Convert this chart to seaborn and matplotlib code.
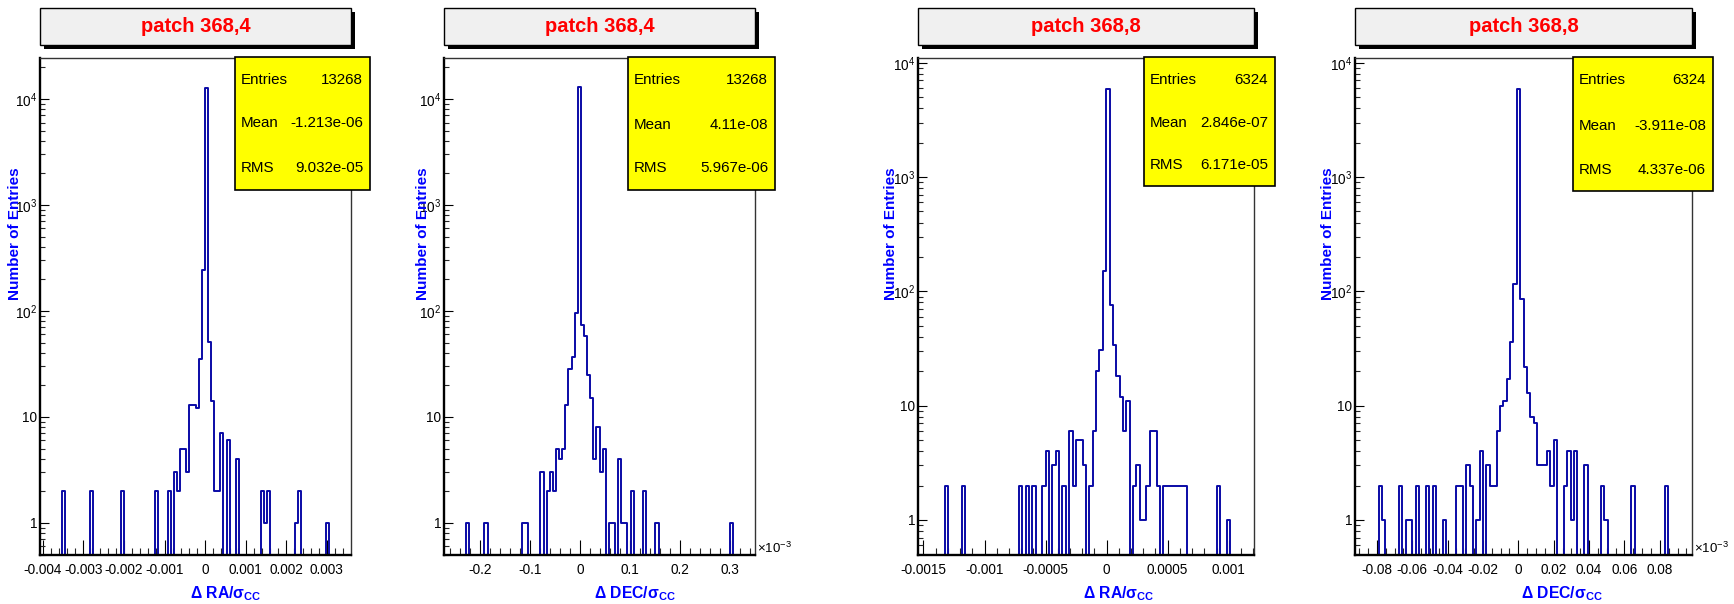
import numpy as np
import pandas as pd
import matplotlib
matplotlib.use("Agg")
import matplotlib.pyplot as plt
import seaborn as sns
from matplotlib.patches import Rectangle
from matplotlib.ticker import (FixedLocator, FixedFormatter, MultipleLocator,
                               LogLocator, NullFormatter)

# ---------------------------------------------------------------- data
titles = ["patch 368,4", "patch 368,4", "patch 368,8", "patch 368,8"]
xlabels = [r"Δ RA/σ$_{\mathbf{CC}}$", r"Δ DEC/σ$_{\mathbf{CC}}$",
           r"Δ RA/σ$_{\mathbf{CC}}$", r"Δ DEC/σ$_{\mathbf{CC}}$"]
ylabel = "Number of Entries"

# histogram ranges (100 bins each)
range_ra_368_4 = (-0.004071, 0.003594)
range_dec_368_4 = (-0.2713e-3, 0.3490e-3)
range_ra_368_8 = (-0.001545, 0.001207)
range_dec_368_8 = (-0.09235e-3, 0.09819e-3)

counts_ra_368_4 = [
    0, 0, 0, 0, 0, 0, 0, 2, 0, 0,
    0, 0, 0, 0, 0, 0, 2, 0, 0, 0,
    0, 0, 0, 0, 0, 0, 2, 0, 0, 0,
    0, 0, 0, 0, 0, 0, 0, 2, 0, 0,
    0, 2, 0, 3, 2, 5, 5, 3, 13, 13,
    12, 35, 242, 12830, 51, 14, 2, 2, 7, 0,
    6, 0, 0, 4, 0, 0, 0, 0, 0, 0,
    0, 2, 1, 2, 0, 0, 0, 0, 0, 0,
    0, 0, 1, 2, 0, 0, 0, 0, 0, 0,
    0, 0, 1, 0, 0, 0, 0, 0, 0, 0,
]
counts_dec_368_4 = [
    0, 0, 0, 0, 0, 0, 0, 1, 0, 0,
    0, 0, 0, 1, 0, 0, 0, 0, 0, 0,
    0, 0, 0, 0, 0, 1, 1, 0, 0, 0,
    0, 3, 0, 2, 3, 2, 5, 4, 5, 13,
    28, 37, 95, 12861, 74, 58, 25, 15, 4, 8,
    3, 5, 0, 1, 1, 0, 4, 1, 1, 0,
    2, 0, 0, 0, 2, 0, 0, 0, 1, 0,
    0, 0, 0, 0, 0, 0, 0, 0, 0, 0,
    0, 0, 0, 0, 0, 0, 0, 0, 0, 0,
    0, 0, 1, 0, 0, 0, 0, 0, 0, 0,
]
counts_ra_368_8 = [
    0, 0, 0, 0, 0, 0, 0, 0, 2, 0,
    0, 0, 0, 2, 0, 0, 0, 0, 0, 0,
    0, 0, 0, 0, 0, 0, 0, 0, 0, 0,
    2, 0, 2, 0, 2, 0, 0, 2, 4, 0,
    3, 4, 0, 2, 0, 6, 2, 5, 5, 3,
    0, 2, 6, 20, 31, 150, 5872, 76, 34, 18,
    12, 6, 11, 0, 2, 3, 1, 1, 2, 6,
    6, 2, 0, 2, 2, 2, 2, 2, 2, 2,
    0, 0, 0, 0, 0, 0, 0, 0, 0, 2,
    0, 0, 1, 0, 0, 0, 0, 0, 0, 0,
]
counts_dec_368_8 = [
    0, 0, 0, 0, 0, 0, 0, 2, 1, 0,
    0, 0, 0, 2, 0, 1, 1, 0, 2, 0,
    0, 2, 0, 2, 0, 0, 1, 0, 0, 0,
    2, 2, 0, 3, 2, 0, 1, 4, 0, 3,
    2, 2, 6, 10, 11, 17, 36, 117, 5916, 85,
    22, 13, 8, 7, 3, 3, 3, 4, 2, 5,
    0, 0, 2, 4, 1, 4, 0, 0, 3, 0,
    0, 0, 0, 2, 1, 0, 0, 0, 0, 0,
    0, 0, 2, 0, 0, 0, 0, 0, 0, 0,
    0, 0, 2, 0, 0, 0, 0, 0, 0, 0,
]

stat_names = ["Entries", "Mean", "RMS"]
stats_ra_368_4 = ["13268", "-1.213e-06", "9.032e-05"]
stats_dec_368_4 = ["13268", "4.11e-08", "5.967e-06"]
stats_ra_368_8 = ["6324", "2.846e-07", "6.171e-05"]
stats_dec_368_8 = ["6324", "-3.911e-08", "4.337e-06"]

xticks_ra_368_4 = [-0.004, -0.003, -0.002, -0.001, 0, 0.001, 0.002, 0.003]
xticklabels_ra_368_4 = ["-0.004", "-0.003", "-0.002", "-0.001", "0",
                        "0.001", "0.002", "0.003"]
xticks_dec_368_4 = [-0.2e-3, -0.1e-3, 0, 0.1e-3, 0.2e-3, 0.3e-3]
xticklabels_dec_368_4 = ["-0.2", "-0.1", "0", "0.1", "0.2", "0.3"]
xticks_ra_368_8 = [-0.0015, -0.001, -0.0005, 0, 0.0005, 0.001]
xticklabels_ra_368_8 = ["-0.0015", "-0.001", "-0.0005", "0", "0.0005", "0.001"]
xticks_dec_368_8 = [-0.08e-3, -0.06e-3, -0.04e-3, -0.02e-3, 0,
                    0.02e-3, 0.04e-3, 0.06e-3, 0.08e-3]
xticklabels_dec_368_8 = ["-0.08", "-0.06", "-0.04", "-0.02", "0",
                         "0.02", "0.04", "0.06", "0.08"]

yticks = [1, 10, 100, 1000, 10000]
yticklabels = ["1", "10", r"$10^{2}$", r"$10^{3}$", r"$10^{4}$"]
ylim_368_4 = (0.495, 24400)
ylim_368_8 = (0.494, 11000)

# ---------------------------------------------------------------- style
sns.set_style("white")
FONT = "Liberation Sans"
plt.rcParams["font.family"] = [FONT, "DejaVu Sans"]
plt.rcParams["mathtext.fontset"] = "custom"
plt.rcParams["mathtext.rm"] = FONT
plt.rcParams["mathtext.bf"] = FONT + ":bold"
plt.rcParams["mathtext.it"] = FONT + ":italic"

LINE = "#0a0aa6"
BLUE = "#0000ff"
W, H = 1734, 604

panels = [
    dict(counts=counts_ra_368_4, rng=range_ra_368_4, stats=stats_ra_368_4,
         xt=xticks_ra_368_4, xtl=xticklabels_ra_368_4, minor=0.0002,
         ylim=ylim_368_4, title=titles[0], xlabel=xlabels[0], exp=False,
         ax=(40, 58, 351, 555), stat=(235, 57, 370, 190),
         rows=(80, 123, 168), ylx=15.5, xlx=226),
    dict(counts=counts_dec_368_4, rng=range_dec_368_4, stats=stats_dec_368_4,
         xt=xticks_dec_368_4, xtl=xticklabels_dec_368_4, minor=0.02e-3,
         ylim=ylim_368_4, title=titles[1], xlabel=xlabels[1], exp=True,
         ax=(444, 58, 755, 555), stat=(628, 57, 775, 190),
         rows=(80, 125, 168), ylx=423, xlx=635),
    dict(counts=counts_ra_368_8, rng=range_ra_368_8, stats=stats_ra_368_8,
         xt=xticks_ra_368_8, xtl=xticklabels_ra_368_8, minor=0.0001,
         ylim=ylim_368_8, title=titles[2], xlabel=xlabels[2], exp=False,
         ax=(918, 58, 1254, 555), stat=(1144, 57, 1275, 186),
         rows=(80, 123, 165), ylx=891, xlx=1119),
    dict(counts=counts_dec_368_8, rng=range_dec_368_8, stats=stats_dec_368_8,
         xt=xticks_dec_368_8, xtl=xticklabels_dec_368_8, minor=0.005e-3,
         ylim=ylim_368_8, title=titles[3], xlabel=xlabels[3], exp=True,
         ax=(1355, 58, 1692, 555), stat=(1573, 57, 1713, 191),
         rows=(80, 126, 170), ylx=1328.5, xlx=1562),
]


def fx(x):
    return x / W


def fy(y):
    return 1 - y / H


fig = plt.figure(figsize=(W / 100, H / 100), dpi=100)
fig.patch.set_facecolor("white")

for p in panels:
    x0, y0, x1, y1 = p["ax"]
    ax = fig.add_axes([fx(x0), fy(y1), (x1 - x0) / W, (y1 - y0) / H])
    lo, hi = p["rng"]
    nb = len(p["counts"])
    width = (hi - lo) / nb
    centers = lo + width * (np.arange(nb) + 0.5)
    df = pd.DataFrame({"x": centers, "n": p["counts"]})
    sns.histplot(data=df, x="x", weights="n", bins=nb, binrange=(lo, hi),
                 element="step", fill=False, color=LINE, linewidth=1.4,
                 ax=ax)
    ax.set_yscale("log")
    ax.set_ylim(*p["ylim"])
    ax.set_xlim(lo, hi)
    ax.set_xlabel("")
    ax.set_ylabel("")
    ax.grid(False)
    for side in ("left", "bottom"):
        ax.spines[side].set_linewidth(1.7)
        ax.spines[side].set_color("black")
    for side in ("top", "right"):
        ax.spines[side].set_linewidth(1.0)
        ax.spines[side].set_color("#333333")

    ax.xaxis.set_major_locator(FixedLocator(p["xt"]))
    ax.xaxis.set_major_formatter(FixedFormatter(p["xtl"]))
    ax.xaxis.set_minor_locator(MultipleLocator(p["minor"]))
    ax.yaxis.set_major_locator(FixedLocator(yticks))
    ax.yaxis.set_major_formatter(FixedFormatter(yticklabels))
    ax.yaxis.set_minor_locator(LogLocator(base=10, subs=np.arange(2, 10)))
    ax.yaxis.set_minor_formatter(NullFormatter())

    ax.tick_params(axis="x", which="major", direction="in", length=10.5,
                   width=0.8, pad=6, labelsize=9.8, bottom=True,
                   top=False, colors="black")
    ax.tick_params(axis="x", which="minor", direction="in", length=5,
                   width=0.8, bottom=True, top=False)
    ax.tick_params(axis="y", which="major", direction="in", length=6.5,
                   width=0.8, pad=2, labelsize=9.8, left=True,
                   right=False, colors="black")
    ax.tick_params(axis="y", which="minor", direction="in", length=3.5,
                   width=0.8, left=True, right=False)

    # title box with shadow
    tx0, tx1, ty0, ty1 = x0, x1, 8, 45
    fig.add_artist(Rectangle((fx(tx0 + 4), fy(ty1 + 4)), (tx1 - tx0) / W,
                             (ty1 - ty0) / H, transform=fig.transFigure,
                             facecolor="black", edgecolor="none", zorder=5))
    fig.add_artist(Rectangle((fx(tx0), fy(ty1)), (tx1 - tx0) / W,
                             (ty1 - ty0) / H, transform=fig.transFigure,
                             facecolor="#f0f0f0", edgecolor="black",
                             linewidth=1.0, zorder=6))
    fig.text(fx((tx0 + tx1) / 2), fy(27), p["title"], ha="center",
             va="center", color="#ff0000", fontsize=14.5,
             fontweight="bold", zorder=7)

    # stats box
    sx0, sy0, sx1, sy1 = p["stat"]
    fig.add_artist(Rectangle((fx(sx0), fy(sy1)), (sx1 - sx0) / W,
                             (sy1 - sy0) / H, transform=fig.transFigure,
                             facecolor="#ffff00", edgecolor="black",
                             linewidth=1.2, zorder=5))
    for name, val, ry in zip(stat_names, p["stats"], p["rows"]):
        fig.text(fx(sx0 + 6), fy(ry), name, ha="left", va="center",
                 fontsize=10.9, color="black", zorder=7)
        fig.text(fx(sx1 - 7), fy(ry), val, ha="right", va="center",
                 fontsize=10.9, color="black", zorder=7)

    # axis titles
    fig.text(fx(p["ylx"]), fy(167), ylabel, rotation=90, ha="center",
             va="top", color=BLUE, fontsize=11, fontweight="bold", zorder=7)
    fig.text(fx(p["xlx"]), fy(594), p["xlabel"], ha="center", va="center",
             color=BLUE, fontsize=11.3, fontweight="bold", zorder=7)
    if p["exp"]:
        fig.text(fx(x1 + 2), fy(548), r"×10$^{-3}$", ha="left", va="center",
                 fontsize=9.5, color="black", zorder=7)

fig.savefig("out.png", dpi=100, facecolor="white")
